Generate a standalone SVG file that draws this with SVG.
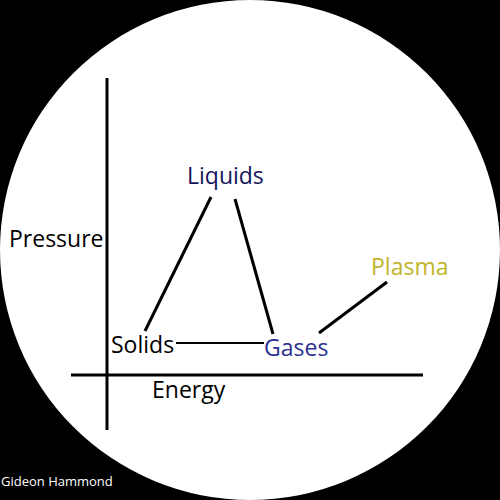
<svg xmlns="http://www.w3.org/2000/svg" width="500" height="500" viewBox="0 0 500 500">
<style>
text{font-family:"Open Sans","Noto Sans","Liberation Sans",sans-serif;font-size:23px;fill:#000}
.ax{stroke:#000;stroke-width:3;fill:none}
.c{stroke:#000;stroke-width:3;fill:none;stroke-linecap:butt}
</style>
<rect x="0" y="0" width="500" height="500" fill="#000"/>
<circle cx="250" cy="250" r="250" fill="#fff"/>
<g id="axes">
<line class="ax" x1="107" y1="78" x2="107" y2="430"/>
<line class="ax" x1="71" y1="375" x2="423" y2="375"/>
</g>
<g id="connectors">
<line class="c" x1="211" y1="197" x2="145" y2="331"/>
<line class="c" x1="235" y1="199" x2="273" y2="334"/>
<line class="c" x1="176" y1="343" x2="264" y2="343" style="stroke-width:2"/>
<line class="c" x1="387" y1="282" x2="319" y2="333"/>
</g>
<g id="liquids"><text x="187" y="184" style="fill:#14145a">Liquids</text></g>
<g id="solids"><text x="111" y="353">Solids</text></g>
<g id="gases"><text x="264" y="356" style="fill:#2b318f">Gases</text></g>
<g id="plasma"><text x="371" y="275" style="fill:#bfb42a">Plasma</text></g>
<g id="pressure"><text x="9" y="247">Pressure</text></g>
<g id="energy"><text x="152" y="398">Energy</text></g>
<text x="1" y="486" style="fill:#fff;font-size:13px">Gideon Hammond</text>
</svg>
